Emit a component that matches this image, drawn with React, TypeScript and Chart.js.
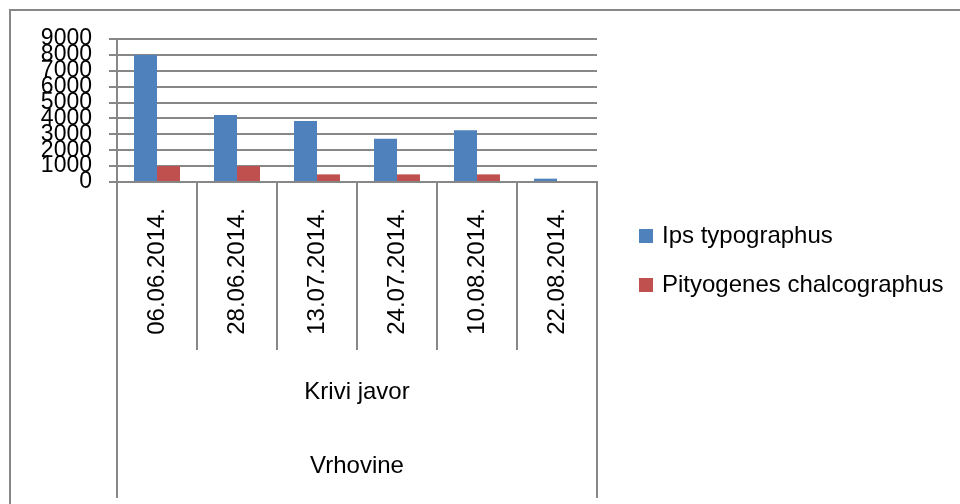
import React, { useEffect, useRef } from "react";
import { Chart, registerables } from "chart.js";

Chart.register(...registerables);

// ---- data ----
const dates = ["06.06.2014.", "28.06.2014.", "13.07.2014.", "24.07.2014.", "10.08.2014.", "22.08.2014."];
const locality = "Krivi javor";
const region = "Vrhovine";
const ipsTypographus = [8000, 4220, 3840, 2720, 3250, 210];
const pityogenesChalcographus = [1000, 1000, 480, 480, 480, 0];
const seriesNames = ["Ips typographus", "Pityogenes chalcographus"];
const seriesColors = ["#4F81BD", "#C0504D"];
const yMin = 0;
const yMax = 9000;
const yStep = 1000;

const FONT = "'Liberation Sans', Arial, sans-serif";
const GRID = "#878787";
const FONT_SIZE = 23;
const LEGEND_FONT_SIZE = 24;

const decorPlugin = {
  id: "decor",
  afterDraw(chart: any) {
    const ctx = chart.ctx;
    const area = chart.chartArea;
    const xs = chart.scales.x;
    ctx.save();
    // outer chart frame (top + left)
    ctx.strokeStyle = GRID;
    ctx.lineWidth = 2;
    ctx.beginPath();
    ctx.moveTo(10, chart.height);
    ctx.lineTo(10, 10);
    ctx.lineTo(chart.width, 10);
    ctx.stroke();

    // multi-level category axis: outer edges extend to the bottom
    const bandTop = xs.top + 168;
    const bottom = chart.height - 6;
    ctx.lineWidth = 2;
    ctx.beginPath();
    ctx.moveTo(area.left, bandTop);
    ctx.lineTo(area.left, bottom);
    ctx.moveTo(area.right, bandTop);
    ctx.lineTo(area.right, bottom);
    ctx.stroke();

    // group labels
    const cx = (area.left + area.right) / 2;
    ctx.fillStyle = "#000";
    ctx.font = `${LEGEND_FONT_SIZE}px ${FONT}`;
    ctx.textAlign = "center";
    ctx.textBaseline = "middle";
    ctx.fillText(locality, cx, bandTop + 42);
    ctx.fillText(region, cx, bandTop + 116);

    // legend
    ctx.textAlign = "left";
    chart.data.datasets.forEach((ds: any, i: number) => {
      const y = 236 + i * 49;
      ctx.fillStyle = ds.backgroundColor;
      ctx.fillRect(639, y - 7, 14, 14);
      ctx.fillStyle = "#000";
      ctx.fillText(ds.label, 662, y);
    });
    ctx.restore();
  },
};

export default function App() {
  const ref = useRef<HTMLCanvasElement | null>(null);

  useEffect(() => {
    if (!ref.current) return;
    const chart = new Chart(ref.current, {
      type: "bar",
      data: {
        labels: dates,
        datasets: [
          {
            label: seriesNames[0],
            data: ipsTypographus,
            backgroundColor: seriesColors[0],
            barPercentage: 1,
            categoryPercentage: 0.575,
          },
          {
            label: seriesNames[1],
            data: pityogenesChalcographus,
            backgroundColor: seriesColors[1],
            barPercentage: 1,
            categoryPercentage: 0.575,
          },
        ],
      },
      options: {
        animation: false,
        responsive: false,
        layout: { padding: { top: 39, right: 363, bottom: 0, left: 0 } },
        plugins: {
          legend: { display: false },
          tooltip: { enabled: false },
        },
        scales: {
          x: {
            type: "category",
            grid: {
              drawOnChartArea: false,
              drawTicks: true,
              tickLength: 168,
              color: GRID,
              lineWidth: 2,
              offset: true,
            },
            border: { display: true, color: GRID, width: 2 },
            ticks: {
              minRotation: 90,
              maxRotation: 90,
              autoSkip: false,
              padding: -142,
              color: "#000",
              font: { family: FONT, size: LEGEND_FONT_SIZE },
            },
            afterFit: (s: any) => {
              s.height = 322;
            },
          },
          y: {
            min: yMin,
            max: yMax,
            ticks: {
              stepSize: yStep,
              autoSkip: false,
              padding: 17,
              color: "#000",
              font: { family: FONT, size: FONT_SIZE },
              callback: (v: any) => String(v),
            },
            grid: { color: GRID, lineWidth: 2, tickLength: 8 },
            border: { display: true, color: GRID, width: 2 },
            afterFit: (s: any) => {
              s.width = 117;
            },
          },
        },
      } as any,
      plugins: [decorPlugin],
    });
    return () => chart.destroy();
  }, []);

  return (
    <div style={{ position: "absolute", left: 0, top: 0, width: 960, height: 504, background: "#fff" }}>
      <canvas ref={ref} width={960} height={504} style={{ display: "block", width: 960, height: 504 }} />
    </div>
  );
}
